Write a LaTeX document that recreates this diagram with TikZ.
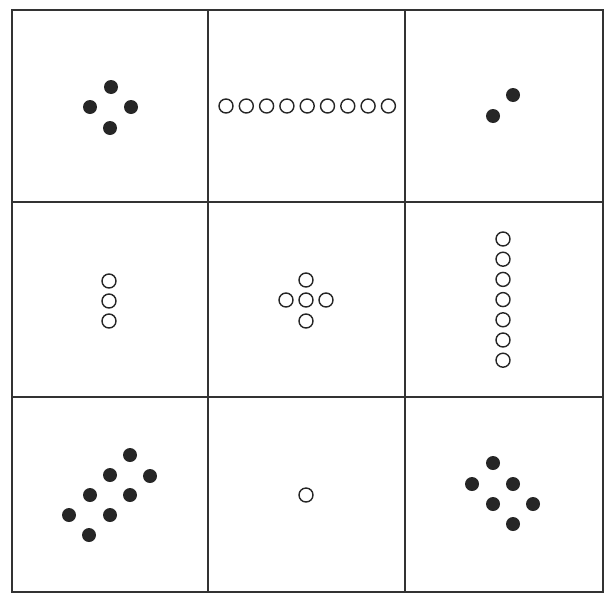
\documentclass[tikz,border=0pt]{standalone}
\usepackage{tikz}
\usetikzlibrary{positioning}

\begin{document}
\begin{tikzpicture}[x=0.02cm, y=-0.02cm,
		frame/.style={line width=1.1pt, black!80},
		dot/.style={circle, fill=black!85, inner sep=0pt, minimum size=0.28cm},
		ring/.style={circle, draw=black!85, line width=0.8pt, inner sep=0pt,
			minimum size=0.28cm}
	]
	\useasboundingbox (0,0) rectangle (614,602);

	% ===== The 3x3 grid =====
	\draw[frame] (12,10) rectangle (603,592);
	\draw[frame] (208,10) -- (208,592);
	\draw[frame] (405,10) -- (405,592);
	\draw[frame] (12,202) -- (603,202);
	\draw[frame] (12,397) -- (603,397);

	% ===== Top row =====
	\node[dot] (a1) at (111,87)  {};
	\node[dot] (a2) at (90,107)  {};
	\node[dot] (a3) at (131,107) {};
	\node[dot] (a4) at (110,128) {};
	\foreach \i in {0,...,8}
		\node[ring] (b\i) at (226+20.3*\i,106) {};
	\node[dot] (c1) at (513,95)  {};
	\node[dot] (c2) at (493,116) {};

	% ===== Middle row =====
	\foreach \i in {0,1,2}
		\node[ring] (d\i) at (109,281+20*\i) {};
	\node[ring] (e1) at (306,280) {};
	\node[ring] (e2) at (286,300) {};
	\node[ring] (e3) at (306,300) {};
	\node[ring] (e4) at (326,300) {};
	\node[ring] (e5) at (306,321) {};
	\foreach \i in {0,...,6}
		\node[ring] (f\i) at (503,239+20.2*\i) {};

	% ===== Bottom row =====
	\node[dot] (g1) at (130,455) {};
	\node[dot] (g2) at (110,475) {};
	\node[dot] (g3) at (150,476) {};
	\node[dot] (g4) at (90,495)  {};
	\node[dot] (g5) at (130,495) {};
	\node[dot] (g6) at (69,515)  {};
	\node[dot] (g7) at (110,515) {};
	\node[dot] (g8) at (89,535)  {};
	\node[ring] (h1) at (306,495) {};
	\node[dot] (k1) at (493,463) {};
	\node[dot] (k2) at (472,484) {};
	\node[dot] (k3) at (513,484) {};
	\node[dot] (k4) at (493,504) {};
	\node[dot] (k5) at (533,504) {};
	\node[dot] (k6) at (513,524) {};
\end{tikzpicture}
\end{document}
